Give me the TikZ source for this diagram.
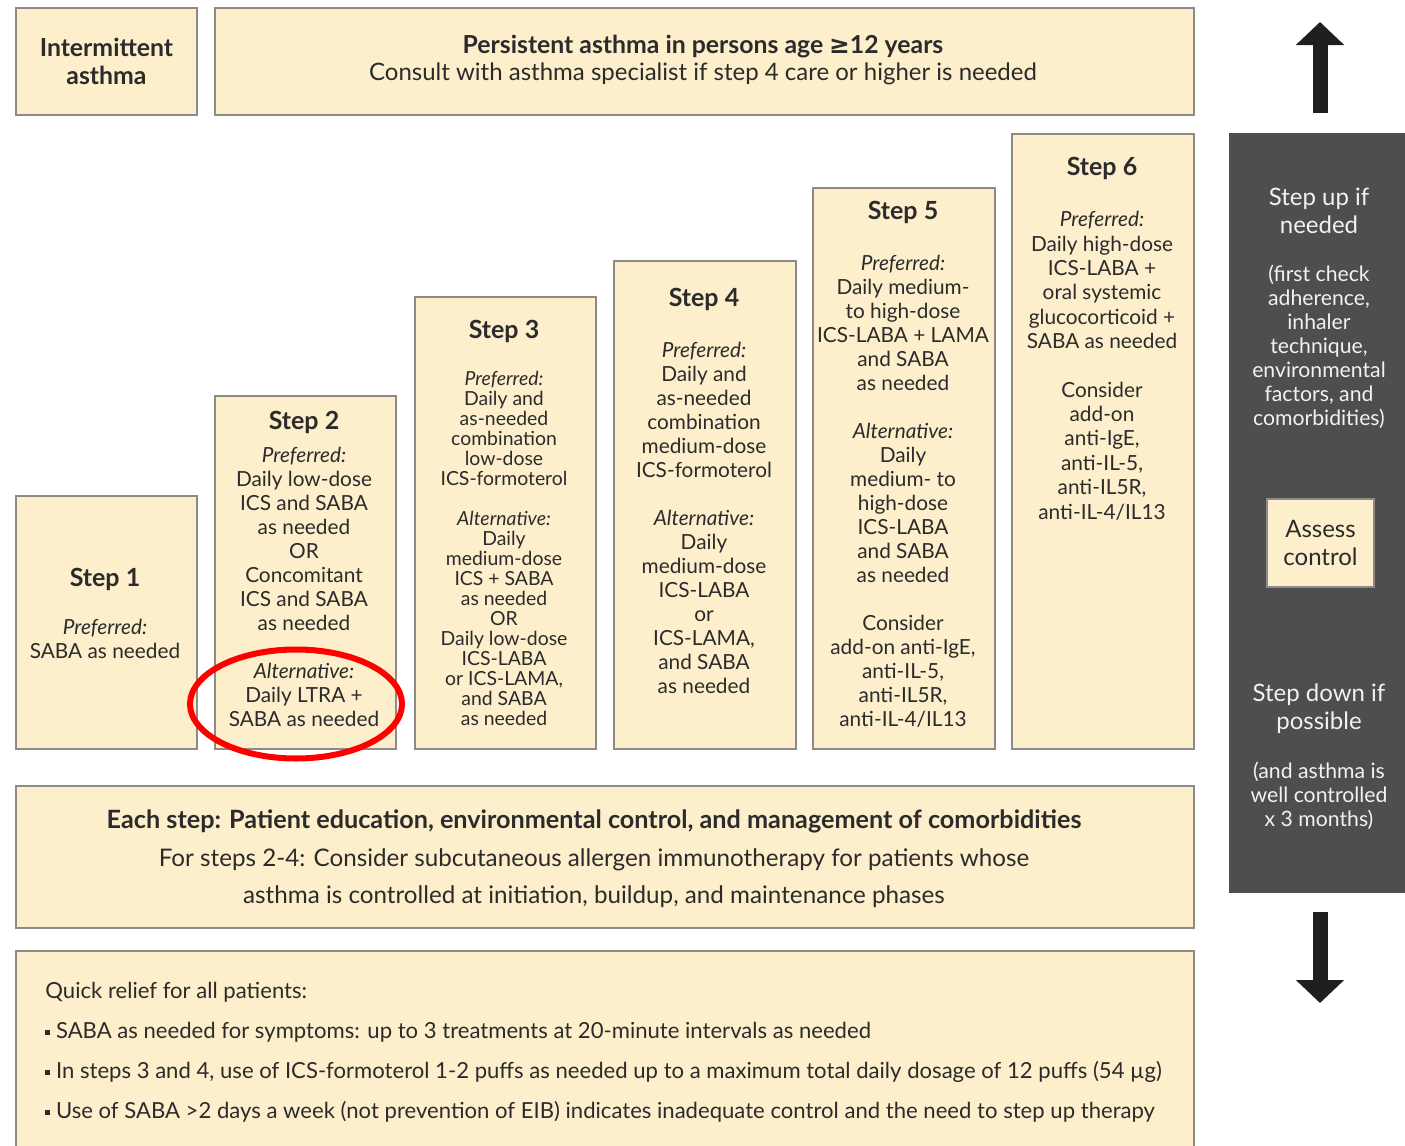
\documentclass[tikz,border=0pt]{standalone}
\usepackage{fontspec}
\setmainfont{Lato}
\newfontfamily\symfont{DejaVu Sans}
\usetikzlibrary{positioning,shapes.geometric,arrows.meta}
\definecolor{cream}{HTML}{FDEFCC}
\definecolor{rim}{HTML}{8E8B86}
\definecolor{slate}{HTML}{4E4D4F}
\definecolor{ink}{HTML}{2B2B2B}
\definecolor{paper}{HTML}{F2F2F2}
\begin{document}
\begin{tikzpicture}[x=0.5pt,y=-0.5pt,
  box/.style={draw=rim,fill=cream,line width=1pt,anchor=north west,inner sep=0pt},
  steptitle/.style={font=\fontsize{12.5}{14}\selectfont\bfseries,text=ink,inner sep=0pt},
  stepbody/.style={font=\fontsize{10.4}{12}\selectfont,text=ink,align=center,anchor=north,inner sep=0pt},
  smallbody/.style={stepbody,font=\fontsize{9.7}{10}\selectfont},
  sidebig/.style={font=\fontsize{12}{14}\selectfont,text=paper,align=center,inner sep=0pt},
  sidesmall/.style={font=\fontsize{10.6}{12}\selectfont,text=paper,align=center,inner sep=0pt},
  bigarrow/.style={draw=black!88,line width=7.5pt,-{Triangle[width=23.5pt,length=11.5pt]}},
  ring/.style={ellipse,draw=red,line width=3pt,minimum width=106pt,minimum height=54.5pt,inner sep=0pt}]
\useasboundingbox (0,0) rectangle (1405,1146);

% header row
\node[box,minimum width=90.5pt,minimum height=53.5pt] (int) at (15,7) {};
\node[steptitle,align=center,font=\fontsize{12.4}{14}\selectfont\bfseries] at (int.center) {Intermittent\\asthma};
\node[box,minimum width=489.5pt,minimum height=53.5pt] (pers) at (214,7) {};
\node[text=ink,align=center,inner sep=0pt,font=\fontsize{12}{13.5}\selectfont] at (703,60)
  {{\fontsize{12.4}{13.5}\selectfont\bfseries Persistent asthma in persons age {\symfont ≥}12 years}\\Consult with asthma specialist if step 4 care or higher is needed};

% the six steps
\node[box,minimum width=90.5pt,minimum height=126.5pt] (s1) at (15,495) {};
\node[box,minimum width=90.5pt,minimum height=176.5pt] (s2) at (214,395) {};
\node[box,minimum width=90.5pt,minimum height=226pt] (s3) at (414,296) {};
\node[box,minimum width=91pt,minimum height=244pt] (s4) at (613,260) {};
\node[box,minimum width=91pt,minimum height=280.5pt] (s5) at (812,187) {};
\node[box,minimum width=91pt,minimum height=307.5pt] (s6) at (1011,133) {};

\node[steptitle] (t1) at (105,579) {Step 1};
\node[steptitle] (t2) at (304,422) {Step 2};
\node[steptitle] (t3) at (504,331) {Step 3};
\node[steptitle] (t4) at (704,299) {Step 4};
\node[steptitle] (t5) at (903,212) {Step 5};
\node[steptitle] (t6) at (1102,168) {Step 6};

\node[stepbody] (b1) at (105,619) {\textit{Preferred:}\\SABA as needed};
\node[stepbody] (b2) at (304,447) {\textit{Preferred:}\\Daily low-dose\\ICS and SABA\\as needed\\OR\\Concomitant\\ICS and SABA\\as needed\\[12pt]
  \textit{Alternative:}\\Daily LTRA +\\SABA as needed};
\node[smallbody] (b3) at (504,371) {\textit{Preferred:}\\Daily and\\as-needed\\combination\\low-dose\\ICS-formoterol\\[10pt]
  \textit{Alternative:}\\Daily\\medium-dose\\ICS + SABA\\as needed\\OR\\Daily low-dose\\ICS-LABA\\or ICS-LAMA,\\and SABA\\as needed};
\node[stepbody] (b4) at (704,342) {\textit{Preferred:}\\Daily and\\as-needed\\combination\\medium-dose\\ICS-formoterol\\[12pt]
  \textit{Alternative:}\\Daily\\medium-dose\\ICS-LABA\\or\\ICS-LAMA,\\and SABA\\as needed};
\node[stepbody] (b5) at (903,255) {\textit{Preferred:}\\Daily medium-\\to high-dose\\ICS-LABA + LAMA\\and SABA\\as needed\\[12pt]
  \textit{Alternative:}\\Daily\\medium- to\\high-dose\\ICS-LABA\\and SABA\\as needed\\[12pt]
  Consider\\add-on anti-IgE,\\anti-IL-5,\\anti-IL5R,\\anti-IL-4/IL13};
\node[stepbody,font=\fontsize{10.4}{12.2}\selectfont] (b6) at (1102,211) {\textit{Preferred:}\\Daily high-dose\\ICS-LABA +\\oral systemic\\glucocorticoid +\\SABA as needed\\[12pt]
  Consider\\add-on\\anti-IgE,\\anti-IL-5,\\anti-IL5R,\\anti-IL-4/IL13};

\node[ring] (alt2) at (296,704) {};

% bottom panels
\node[box,minimum width=589pt,minimum height=71pt] (each) at (15,785) {};
\node[text=ink,align=center,inner sep=0pt,font=\fontsize{12.1}{18.75}\selectfont] at (594,859)
  {{\fontsize{12.6}{18.75}\selectfont\bfseries Each step: Patient education, environmental control, and management of comorbidities}\\
   For steps 2-4: Consider subcutaneous allergen immunotherapy for patients whose\\
   asthma is controlled at initiation, buildup, and maintenance phases};
\node[box,minimum width=589pt,minimum height=102pt] (quick) at (15,950) {};
\node[text=ink,align=left,anchor=north west,inner sep=0pt,font=\fontsize{11.05}{20}\selectfont] at (45,982)
  {Quick relief for all patients:\\
   \rule[2pt]{2.5pt}{2.5pt} SABA as needed for symptoms: up to 3 treatments at 20-minute intervals as needed\\
   \rule[2pt]{2.5pt}{2.5pt} In steps 3 and 4, use of ICS-formoterol 1-2 puffs as needed up to a maximum total daily dosage of 12 puffs (54 µg)\\
   \rule[2pt]{2.5pt}{2.5pt} Use of SABA >2 days a week (not prevention of EIB) indicates inadequate control and the need to step up therapy};

% side panel
\fill[slate] (1229,133) rectangle (1405,893);
\node[sidebig] (up) at (1319,211) {Step up if\\needed};
\node[sidesmall] (upnote) at (1319,347) {(first check\\adherence,\\inhaler\\technique,\\environmental\\factors, and\\comorbidities)};
\node[box,minimum width=53.5pt,minimum height=44pt] (assess) at (1266,498) {};
\node[sidebig,text=ink] at (assess.center) {Assess\\control};
\node[sidebig] (down) at (1319,709) {Step down if\\possible};
\node[sidesmall] (downnote) at (1319,796) {(and asthma is\\well controlled\\x 3 months)};

\coordinate (upfoot) at (1320,113);
\coordinate (uptip) at (1320,22);
\coordinate (downfoot) at (1320,912);
\coordinate (downtip) at (1320,1003);
\draw[bigarrow] (upfoot) -- (uptip);
\draw[bigarrow] (downfoot) -- (downtip);
\end{tikzpicture}
\end{document}
